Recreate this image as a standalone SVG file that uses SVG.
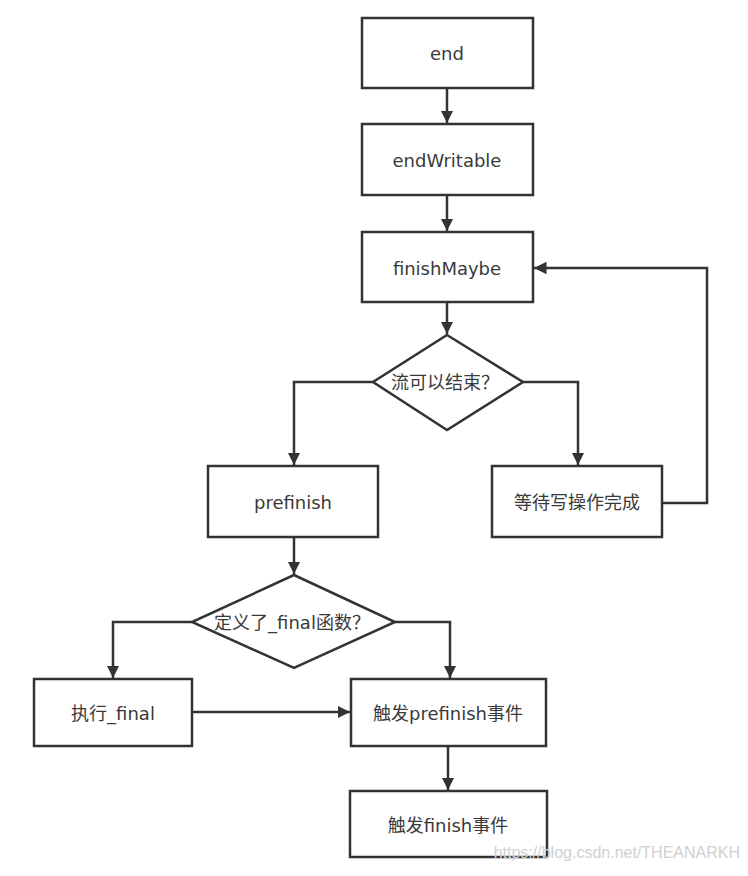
<svg xmlns="http://www.w3.org/2000/svg" width="748" height="876" viewBox="0 0 748 876">
<style>
.n{fill:#fff;stroke:#333;stroke-width:2.5}
.t{font-family:"DejaVu Sans","Noto Sans CJK SC",sans-serif;font-size:18px;fill:#3a3a3a;text-anchor:middle;dominant-baseline:central}
.c{fill:none;stroke:#333;stroke-width:2.5}
</style>
<defs>
<marker id="a" viewBox="0 0 10 10" refX="10" refY="5" markerWidth="5" markerHeight="5.5" orient="auto" markerUnits="strokeWidth">
<path d="M0,0 L10,5 L0,10 z" fill="#333"/>
</marker>
</defs>
<rect width="748" height="876" fill="#fff"/>
<g id="connectors">
<path class="c" d="M447,88 V123" marker-end="url(#a)"/>
<path class="c" d="M447,195 V231" marker-end="url(#a)"/>
<path class="c" d="M447,302 V334" marker-end="url(#a)"/>
<path class="c" d="M373,382 H294 V465" marker-end="url(#a)"/>
<path class="c" d="M523,382 H578 V465" marker-end="url(#a)"/>
<path class="c" d="M662,503 H707 V268 H534" marker-end="url(#a)"/>
<path class="c" d="M294,537 V574" marker-end="url(#a)"/>
<path class="c" d="M192,622 H113 V678" marker-end="url(#a)"/>
<path class="c" d="M395,622 H450 V678" marker-end="url(#a)"/>
<path class="c" d="M192,712 H350" marker-end="url(#a)"/>
<path class="c" d="M448,746 V790" marker-end="url(#a)"/>
</g>
<g id="end"><rect class="n" x="362" y="18" width="171" height="70"/><text class="t" x="447" y="53">end</text></g>
<g id="endWritable"><rect class="n" x="362" y="124" width="171" height="71"/><text class="t" x="447" y="160">endWritable</text></g>
<g id="finishMaybe"><rect class="n" x="362" y="232" width="171" height="70"/><text class="t" x="447" y="268">finishMaybe</text></g>
<g id="canEnd"><path class="n" d="M447,335 L523,382 L447,430 L373,382 Z"/><text class="t" x="445" y="382">流可以结束？</text></g>
<g id="prefinish"><rect class="n" x="208" y="466" width="170" height="71"/><text class="t" x="293" y="502">prefinish</text></g>
<g id="wait"><rect class="n" x="492" y="466" width="170" height="71"/><text class="t" x="577" y="502">等待写操作完成</text></g>
<g id="hasFinal"><path class="n" d="M294,575 L395,622 L294,668 L192,622 Z"/><text class="t" x="292" y="622">定义了_final函数？</text></g>
<g id="callFinal"><rect class="n" x="34" y="679" width="158" height="67"/><text class="t" x="113" y="713">执行_final</text></g>
<g id="emitPrefinish"><rect class="n" x="351" y="679" width="195" height="67"/><text class="t" x="448" y="713">触发prefinish事件</text></g>
<g id="emitFinish"><rect class="n" x="350" y="791" width="197" height="66"/><text class="t" x="448" y="825">触发finish事件</text></g>
<text x="740" y="858" style="font-family:'Liberation Sans',Arial,sans-serif;font-size:16px;fill:#d0d0d0;text-anchor:end">https://blog.csdn.net/THEANARKH</text>
</svg>
